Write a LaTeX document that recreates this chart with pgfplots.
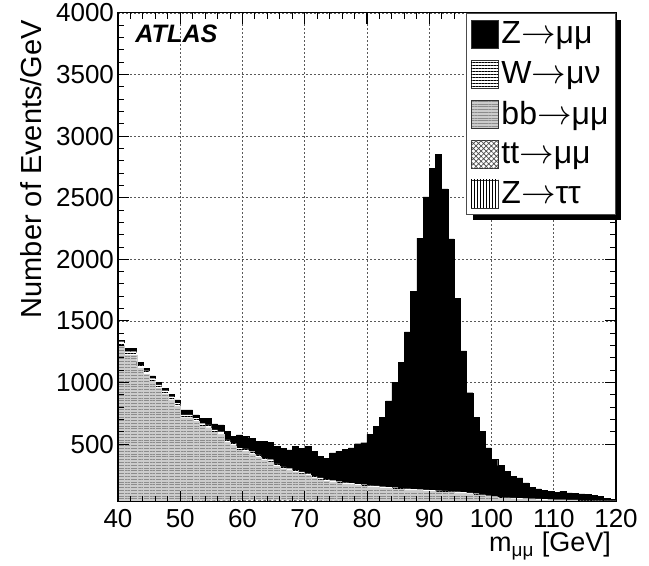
\documentclass[border=0pt]{standalone}
\usepackage{fontspec}
\setmainfont{Liberation Sans}
\usepackage{pgfplots}
\pgfplotsset{compat=1.18}
\usepackage{pgfplotstable}
\usetikzlibrary{patterns.meta}

% m_mumu spectrum, events per 1 GeV bin, stacked bottom to top
\pgfplotstableread{
x ztt tt bb w zmm
40.5 8 24 1269 30 14
41.5 8 24 1189 29 27
42.5 9 25 1187 29 27
43.5 9 25 1080 28 19
44.5 10 25 1033 28 19
45.5 10 26 971 27 19
46.5 10 26 917 27 19
47.5 11 26 871 26 19
48.5 11 27 822 26 18
49.5 12 27 768 25 27
50.5 12 27 673 25 41
51.5 13 28 672 24 41
52.5 13 28 645 24 27
53.5 14 28 604 23 41
54.5 14 28 591 23 54
55.5 15 29 550 22 48
56.5 15 29 536 22 54
57.5 15 29 470 21 67
58.5 16 29 442 21 53
59.5 16 30 401 20 108
60.5 16 30 396 20 99
61.5 16 30 375 19 108
62.5 17 30 347 19 108
63.5 17 30 321 18 135
64.5 17 30 308 18 140
65.5 17 30 275 18 141
66.5 16 30 253 17 151
67.5 16 30 239 17 152
68.5 16 30 227 16 192
69.5 15 30 214 16 192
70.5 15 30 201 16 222
71.5 14 30 181 15 200
72.5 14 30 166 15 177
73.5 13 29 158 15 169
74.5 13 29 149 14 224
75.5 12 29 143 14 245
76.5 12 29 135 14 267
77.5 11 29 130 13 287
78.5 11 28 124 13 327
79.5 10 28 119 13 341
80.5 10 28 115 12 414
81.5 9 28 111 12 486
82.5 9 27 107 12 561
83.5 8 27 104 11 700
84.5 8 27 100 11 858
85.5 8 26 97 11 1022
86.5 7 26 94 11 1273
87.5 7 26 92 10 1603
88.5 7 25 90 10 2040
89.5 6 25 88 10 2379
90.5 6 25 85 10 2615
91.5 6 25 82 10 2732
92.5 5 24 81 10 2453
93.5 5 24 79 9 2050
94.5 5 24 76 9 1570
95.5 5 23 73 9 1146
96.5 5 23 67 9 813
97.5 4 23 61 9 622
98.5 4 22 56 8 516
99.5 4 22 48 8 388
100.5 4 22 41 8 300
101.5 4 21 37 8 255
102.5 4 21 33 8 214
103.5 4 21 30 8 177
104.5 3 20 31 7 165
105.5 3 20 29 7 126
106.5 3 20 27 7 93
107.5 3 19 26 7 82
108.5 3 19 24 7 70
109.5 3 19 22 7 67
110.5 3 18 22 7 60
111.5 3 18 22 6 69
112.5 3 18 21 6 56
113.5 2 17 22 6 52
114.5 2 17 21 6 50
115.5 2 17 20 6 46
116.5 2 16 20 6 41
117.5 2 16 19 6 34
118.5 2 16 18 6 16
119.5 2 15 18 6 9
}\mcdata

\pgfplotsset{
  zmm style/.style={fill=black, draw=black, line width=0.2pt},
  w style/.style={fill=white, draw=none, postaction={pattern={Lines[angle=0,distance=1.5pt,line width=0.35pt]}, pattern color=black}},
  bb style/.style={fill=black!20, draw=black!20, line width=0.15pt, postaction={pattern={Lines[angle=0,distance=1.4pt,line width=0.35pt]}, pattern color=black!45}},
  tt style/.style={fill=white, draw=none, postaction={pattern={Hatch[angle=45,distance=1.8pt,line width=0.35pt]}, pattern color=black!70}},
  ztt style/.style={fill=white, draw=none, postaction={pattern={Lines[angle=90,distance=1.5pt,line width=0.35pt]}, pattern color=black}},
  common/.style={
    at={(0,0)}, anchor=south west,
    scale only axis, width=249pt, height=244.5pt,
    xmin=40, xmax=120, ymin=30, ymax=4000,
    xtick={40,50,...,120}, ytick={500,1000,...,4000},
    minor x tick num=4, minor y tick num=4,
    tick align=inside,
    major tick length=5.5pt, minor tick length=3.2pt,
    tick style={black, line width=0.5pt},
    axis line style={black, line width=0.5pt},
  },
}

\begin{document}
\begin{tikzpicture}
\useasboundingbox (-59pt,-32pt) rectangle (265.5pt,251pt);
\begin{axis}[
  common,
  ybar stacked, bar width=1,
  grid=major,
  major grid style={black!65, line width=0.4pt, dash pattern=on 1pt off 1pt},
  tick label style={font=\fontsize{13}{15}\selectfont},
  /pgf/number format/assume math mode=true,
  /pgf/number format/1000 sep={},
  scaled y ticks=false,
  yticklabel style={xshift=1.5pt},
  every axis y label/.style={at={([xshift=-38pt]rel axis cs:0,1)}, rotate=90, anchor=base east,
    font=\fontsize{14.5}{16}\selectfont},
  every axis x label/.style={at={([yshift=-25pt,xshift=1pt]rel axis cs:1,0)}, anchor=base east,
    font=\fontsize{13.5}{15}\selectfont},
  ylabel={Number of Events/GeV},
  xlabel={m\textsubscript{μμ} [GeV]},
]
\addplot[ztt style] table[x=x, y=ztt] {\mcdata};
\addplot[tt style] table[x=x, y=tt] {\mcdata};
\addplot[bb style] table[x=x, y=bb] {\mcdata};
\addplot[w style] table[x=x, y=w] {\mcdata};
\addplot[zmm style] table[x=x, y=zmm] {\mcdata};
\end{axis}

% frame, ticks and legend drawn over the histograms
\begin{axis}[
  common,
  xticklabels={}, yticklabels={},
  legend image code/.code={\draw[#1, draw=black!80, line width=0.4pt] (0pt,-7pt) rectangle (13.5pt,7pt);},
  legend cell align=left,
  legend style={name=leg, at={(rel axis cs:1,1)}, anchor=north east, draw=black!70, line width=0.5pt, fill=white,
    font=\fontsize{16}{18}\selectfont, inner xsep=2pt, inner ysep=2.5pt, row sep=4.5pt,
    nodes={inner sep=1.5pt}},
]
\addlegendimage{zmm style}
\addlegendentry{Z$\rightarrow$μμ}
\addlegendimage{w style}
\addlegendentry{W$\rightarrow$μν}
\addlegendimage{bb style}
\addlegendentry{bb$\rightarrow$μμ}
\addlegendimage{tt style}
\addlegendentry{tt$\rightarrow$μμ}
\addlegendimage{ztt style}
\addlegendentry{Z$\rightarrow$ττ}
\node[anchor=north west, inner sep=0pt, font=\fontsize{12.6}{14}\selectfont\bfseries\itshape]
  at ([xshift=8.5pt,yshift=-6pt]rel axis cs:0,1) {ATLAS};
\end{axis}
% legend shadow, right and bottom strips
\fill[black] ([yshift=-3.5pt]leg.north east) rectangle ([xshift=2.5pt,yshift=-2.5pt]leg.south east);
\fill[black] ([xshift=3.5pt]leg.south west) rectangle ([xshift=2.5pt,yshift=-2.5pt]leg.south east);
\end{tikzpicture}
\end{document}
